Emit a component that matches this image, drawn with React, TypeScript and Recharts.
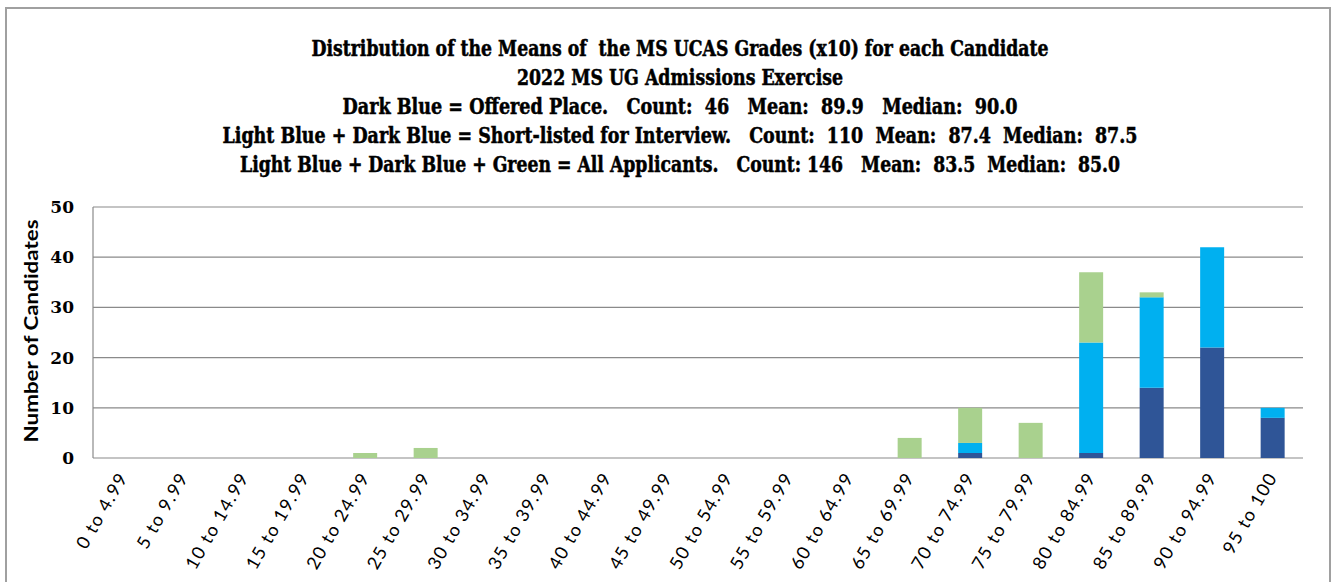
import React from "react";
import { BarChart, Bar, XAxis, YAxis, CartesianGrid } from "recharts";

const categories = [
  "0 to 4.99", "5 to 9.99", "10 to 14.99", "15 to 19.99", "20 to 24.99",
  "25 to 29.99", "30 to 34.99", "35 to 39.99", "40 to 44.99", "45 to 49.99",
  "50 to 54.99", "55 to 59.99", "60 to 64.99", "65 to 69.99", "70 to 74.99",
  "75 to 79.99", "80 to 84.99", "85 to 89.99", "90 to 94.99", "95 to 100",
];
// Dark blue: offered place
const offered = [0, 0, 0, 0, 0, 0, 0, 0, 0, 0, 0, 0, 0, 0, 1, 0, 1, 14, 22, 8];
// Light blue: short-listed but not offered
const shortlisted = [0, 0, 0, 0, 0, 0, 0, 0, 0, 0, 0, 0, 0, 0, 2, 0, 22, 18, 20, 2];
// Green: remaining applicants
const others = [0, 0, 0, 0, 1, 2, 0, 0, 0, 0, 0, 0, 0, 4, 7, 7, 14, 1, 0, 0];
const yTicks = [0, 10, 20, 30, 40, 50];
const boundaryTicks = categories.map((_, i) => i).concat([categories.length]);

const titleLines = [
  { text: "Distribution of the Means of  the MS UCAS Grades (x10) for each Candidate", w: 737 },
  { text: "2022 MS UG Admissions Exercise", w: 326 },
  { text: "Dark Blue = Offered Place.   Count:  46   Mean:  89.9   Median:  90.0", w: 675 },
  { text: "Light Blue + Dark Blue = Short-listed for Interview.   Count:  110  Mean:  87.4  Median:  87.5", w: 915 },
  { text: "Light Blue + Dark Blue + Green = All Applicants.   Count: 146   Mean:  83.5  Median:  85.0", w: 880 },
];

const data = categories.map((c, i) => ({
  name: c,
  idx: i,
  offered: offered[i],
  shortlisted: shortlisted[i],
  others: others[i],
}));

const XTick = (props: any) => {
  const { x, y, payload } = props;
  return (
    <g transform={`translate(${x},${y})`}>
      <text
        x={0}
        y={0}
        dy={6}
        textAnchor="end"
        transform="rotate(-60)"
        fill="#000"
        style={{ fontFamily: "Lato, sans-serif", fontSize: "18px", letterSpacing: "1.4px" }}
      >
        {payload.value}
      </text>
    </g>
  );
};

export default function App() {
  return (
    <div style={{ position: "absolute", left: 0, top: 0, width: 1337, height: 582, background: "#fff", overflow: "hidden" }}>
      <div
        style={{
          position: "absolute",
          left: 5,
          top: 7,
          width: 1326,
          height: 600,
          border: "2px solid #a0a0a0",
          boxSizing: "border-box",
        }}
      />
      <div style={{ position: "absolute", left: 0, top: 0 }}>
        <BarChart
          width={1337}
          height={582}
          data={data}
          margin={{ top: 207, right: 34, bottom: 24, left: 33 }}
          barCategoryGap="30%"
        >
          <CartesianGrid horizontal vertical={false} stroke="#8a8a8a" strokeWidth={1.2} />
          <XAxis
            xAxisId="ticks"
            type="number"
            dataKey="idx"
            domain={[0, categories.length]}
            ticks={boundaryTicks}
            allowDataOverflow
            height={0}
            tickSize={6}
            tickFormatter={() => ""}
            stroke="#8a8a8a"
            axisLine={{ stroke: "#8a8a8a", strokeWidth: 1.2 }}
            tickLine={{ stroke: "#8a8a8a" }}
          />
          <XAxis
            xAxisId="cat"
            dataKey="name"
            type="category"
            interval={0}
            height={100}
            axisLine={false}
            tickLine={false}
            tick={<XTick />}
            tickMargin={10}
          />
          <YAxis
            width={60}
            domain={[0, 50]}
            ticks={yTicks}
            interval={0}
            tickLine={false}
            axisLine={{ stroke: "#8a8a8a", strokeWidth: 1.2 }}
            tick={{ fill: "#000", fontFamily: "'DejaVu Serif', serif", fontWeight: "bold", fontSize: 17 }}
            tickMargin={13}
          />
          <Bar dataKey="offered" stackId="a" xAxisId="cat" fill="#2F5597" isAnimationActive={false} />
          <Bar dataKey="shortlisted" stackId="a" xAxisId="cat" fill="#00B0F0" isAnimationActive={false} />
          <Bar dataKey="others" stackId="a" xAxisId="cat" fill="#A9D18E" isAnimationActive={false} />
        </BarChart>
      </div>
      <svg style={{ position: "absolute", left: 0, top: 0 }} width={1337} height={582} pointerEvents="none">
        {titleLines.map((l, i) => (
          <text
            key={i}
            x={680}
            y={56 + i * 29}
            textAnchor="middle"
            fontFamily="'DejaVu Serif Condensed', 'DejaVu Serif', serif"
            fontWeight="bold"
            fontSize={22}
            textLength={l.w}
            lengthAdjust="spacingAndGlyphs"
            style={{ whiteSpace: "pre" }}
            fill="#000"
            stroke="#000"
            strokeWidth={0.5}
          >
            {l.text}
          </text>
        ))}
        <text
          x={0}
          y={0}
          transform="translate(38,331) rotate(-90)"
          textAnchor="middle"
          fontFamily="Lato, 'Open Sans', sans-serif"
          fontWeight="bold"
          fontSize={19}
          textLength={223}
          lengthAdjust="spacingAndGlyphs"
          fill="#000"
        >
          Number of Candidates
        </text>
      </svg>
    </div>
  );
}
